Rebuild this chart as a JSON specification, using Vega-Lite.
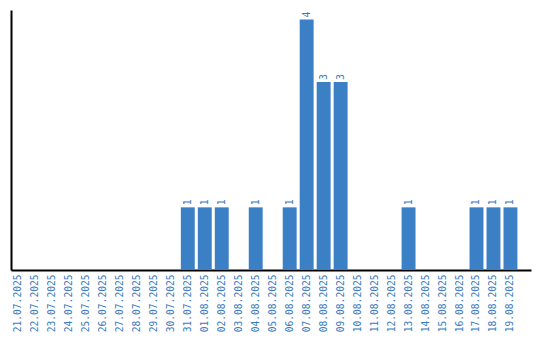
{
  "$schema": "https://vega.github.io/schema/vega-lite/v6.json",
  "width": 520,
  "height": 260,
  "autosize": "none",
  "padding": {"left": 11, "top": 10, "right": 9, "bottom": 70},
  "background": "white",
  "config": {"view": {"stroke": null}},
  "data": {"values": [
    {"date": "21.07.2025", "count": 0},
    {"date": "22.07.2025", "count": 0},
    {"date": "23.07.2025", "count": 0},
    {"date": "24.07.2025", "count": 0},
    {"date": "25.07.2025", "count": 0},
    {"date": "26.07.2025", "count": 0},
    {"date": "27.07.2025", "count": 0},
    {"date": "28.07.2025", "count": 0},
    {"date": "29.07.2025", "count": 0},
    {"date": "30.07.2025", "count": 0},
    {"date": "31.07.2025", "count": 1},
    {"date": "01.08.2025", "count": 1},
    {"date": "02.08.2025", "count": 1},
    {"date": "03.08.2025", "count": 0},
    {"date": "04.08.2025", "count": 1},
    {"date": "05.08.2025", "count": 0},
    {"date": "06.08.2025", "count": 1},
    {"date": "07.08.2025", "count": 4},
    {"date": "08.08.2025", "count": 3},
    {"date": "09.08.2025", "count": 3},
    {"date": "10.08.2025", "count": 0},
    {"date": "11.08.2025", "count": 0},
    {"date": "12.08.2025", "count": 0},
    {"date": "13.08.2025", "count": 1},
    {"date": "14.08.2025", "count": 0},
    {"date": "15.08.2025", "count": 0},
    {"date": "16.08.2025", "count": 0},
    {"date": "17.08.2025", "count": 1},
    {"date": "18.08.2025", "count": 1},
    {"date": "19.08.2025", "count": 1}
  ]},
  "encoding": {
    "x": {
      "field": "date", "type": "nominal", "sort": null,
      "scale": {"paddingInner": 0.18, "paddingOuter": 0.4, "align": 0},
      "axis": {
        "title": null, "ticks": false, "domainColor": "black", "domainWidth": 2,
        "labelAngle": -90, "labelColor": "#3a7bc0", "labelFont": "DejaVu Sans Mono",
        "labelFontSize": 9.6, "labelPadding": 4
      }
    },
    "y": {
      "field": "count", "type": "quantitative",
      "scale": {"domain": [0, 4.15], "nice": false},
      "axis": {"title": null, "ticks": false, "labels": false, "grid": false, "domainColor": "black", "domainWidth": 2}
    }
  },
  "layer": [
    {"mark": {"type": "bar", "color": "#3b7fc4"}},
    {
      "transform": [{"filter": "datum.count > 0"}],
      "mark": {"type": "text", "angle": 270, "align": "left", "baseline": "middle", "dx": 2, "color": "#3a7bc0", "font": "DejaVu Sans Mono", "fontSize": 10},
      "encoding": {"text": {"field": "count", "type": "quantitative"}}
    }
  ]
}
